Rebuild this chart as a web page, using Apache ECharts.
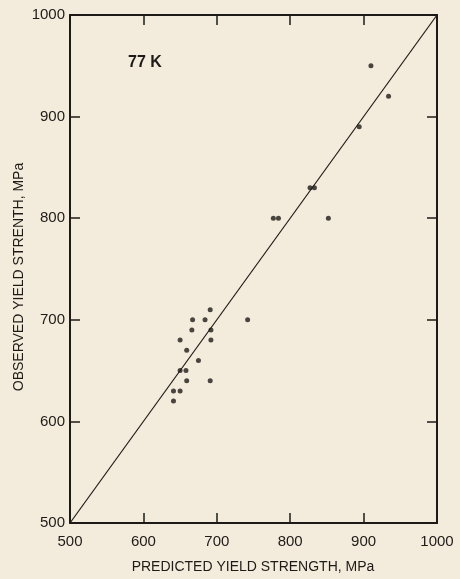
<!DOCTYPE html>
<html>
<head>
<meta charset="utf-8">
<script src="https://cdn.jsdelivr.net/npm/echarts@6/dist/echarts.min.js"></script>
<style>
  html, body { margin: 0; padding: 0; background: #f3ecdc; }
  #chart { width: 460px; height: 579px; }
</style>
</head>
<body>
<div id="chart"></div>
<script>
// Predicted vs observed yield strength at 77 K (MPa)
const predicted = [910, 934, 894, 827, 833, 777, 784, 852, 742, 691, 667, 684, 666, 692, 650, 692, 659, 675, 650, 658, 659, 691, 641, 650, 641];
const observed  = [950, 920, 890, 830, 830, 800, 800, 800, 700, 710, 700, 700, 690, 690, 680, 680, 670, 660, 650, 650, 640, 640, 630, 630, 620];
const axisTicks = [500, 600, 700, 800, 900, 1000];
const identityLine = [[500, 500], [1000, 1000]];

const ink = '#1e1a17';
const points = predicted.map((p, i) => [p, observed[i]]);
const labelFont = 'Liberation Sans, Arial, sans-serif';

const chart = echarts.init(document.getElementById('chart'));
const baseAxis = {
  type: 'value',
  min: axisTicks[0],
  max: axisTicks[axisTicks.length - 1],
  interval: 100,
  axisLine: { show: true, onZero: false, lineStyle: { color: ink, width: 2 } },
  axisTick: { show: true, inside: true, length: 10, lineStyle: { color: ink, width: 1.5 } },
  splitLine: { show: false }
};
const tickLabel = v => String(v);
chart.setOption({
  backgroundColor: '#f3ecdc',
  animation: false,
  grid: { left: 70, right: 23, top: 15, bottom: 56 },
  xAxis: [
    Object.assign({}, baseAxis, {
      position: 'bottom',
      axisLabel: { color: ink, fontSize: 15, margin: 11, fontFamily: labelFont, formatter: tickLabel }
    }),
    Object.assign({}, baseAxis, { position: 'top', axisLabel: { show: false } })
  ],
  yAxis: [
    Object.assign({}, baseAxis, {
      position: 'left',
      axisLabel: { color: ink, fontSize: 15, margin: 5, fontFamily: labelFont, formatter: tickLabel }
    }),
    Object.assign({}, baseAxis, { position: 'right', axisLabel: { show: false } })
  ],
  graphic: [
    {
      type: 'text',
      x: 128, y: 63,
      style: { text: '77 K', fill: ink, font: 'bold 16px ' + labelFont, verticalAlign: 'middle', align: 'left' }
    },
    {
      type: 'text',
      x: 253, y: 567,
      style: { text: 'PREDICTED YIELD STRENGTH, MPa', fill: ink, font: '14px ' + labelFont, verticalAlign: 'middle', align: 'center' }
    },
    {
      type: 'text',
      x: 19, y: 277,
      rotation: Math.PI / 2,
      style: { text: 'OBSERVED YIELD STRENTH, MPa', fill: ink, font: '14px ' + labelFont, verticalAlign: 'middle', align: 'center' }
    }
  ],
  series: [
    {
      type: 'line',
      data: identityLine,
      showSymbol: false,
      lineStyle: { color: ink, width: 1.2 },
      silent: true
    },
    {
      type: 'scatter',
      data: points,
      symbolSize: 5,
      itemStyle: { color: ink }
    }
  ]
});
</script>
</body>
</html>
